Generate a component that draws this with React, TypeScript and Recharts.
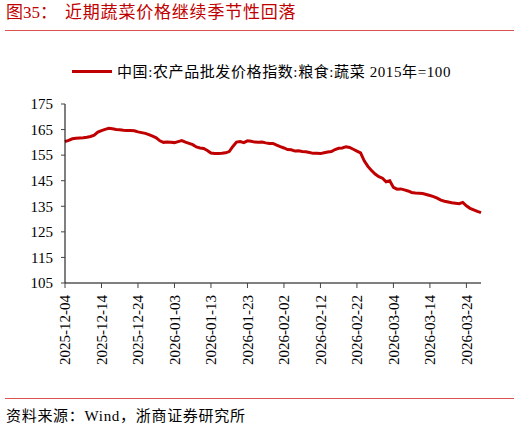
import React from "react";
import { LineChart, Line, XAxis, YAxis } from "recharts";

const TITLE_PREFIX = "图35：";
const TITLE_TEXT = "近期蔬菜价格继续季节性回落";
const SERIES_NAME = "中国:农产品批发价格指数:粮食:蔬菜 2015年=100";
const SOURCE_TEXT = "资料来源：Wind，浙商证券研究所";

const START_DATE = "2025-12-04";
const DAY_COUNT = 115;

const vegIndex: number[] = [
  160.3, 160.8, 161.4, 161.6, 161.7, 161.8, 162.0, 162.3, 162.8, 164.0,
  164.6, 165.1, 165.5, 165.3, 165.0, 164.9, 164.7, 164.6, 164.6, 164.5,
  164.1, 163.8, 163.5, 163.0, 162.4, 161.8, 160.6, 160.0, 160.1, 160.0,
  159.9, 160.3, 160.7, 160.1, 159.6, 159.1, 158.2, 157.8, 157.6, 156.8,
  155.8, 155.6, 155.6, 155.7, 155.9, 156.4, 158.4, 160.1, 160.3, 159.9,
  160.6, 160.4, 160.1, 160.0, 160.1, 159.8, 159.6, 159.6, 158.9, 158.3,
  157.8, 157.2, 157.1, 156.6, 156.7, 156.4, 156.3, 156.0, 155.7, 155.7,
  155.6, 155.9, 156.2, 156.4, 157.2, 157.7, 157.8, 158.3, 158.0, 157.3,
  156.6, 155.9, 152.8, 150.6, 149.0, 147.6, 146.6, 146.0, 144.6, 145.0,
  142.4, 141.7, 141.8, 141.4, 141.0, 140.4, 140.2, 140.1, 140.0, 139.6,
  139.2, 138.8, 138.2, 137.4, 137.0, 136.7, 136.4, 136.2, 136.0, 136.5,
  135.2, 134.2, 133.6, 133.0, 132.5,
];

const yTicks: number[] = [105, 115, 125, 135, 145, 155, 165, 175];

function buildDates(start: string, n: number): string[] {
  const out: string[] = [];
  const d0 = new Date(start + "T00:00:00Z");
  for (let i = 0; i < n; i++) {
    const d = new Date(d0.getTime() + i * 86400000);
    out.push(d.toISOString().slice(0, 10));
  }
  return out;
}

const dates = buildDates(START_DATE, DAY_COUNT);
const data = dates.map((date, i) => ({ date, v: vegIndex[i] }));

const SERIF = '"Liberation Serif", "Noto Sans CJK SC", serif';
const RED = "#c00000";

const XTick = (props: any) => {
  const { x, y, payload } = props;
  return (
    <text
      x={x}
      y={y + 5}
      transform={`rotate(-90 ${x} ${y + 5})`}
      textAnchor="end"
      dy="0.35em"
      fontSize={15}
      fontFamily={SERIF}
      fill="#000"
    >
      {payload.value}
    </text>
  );
};

export default function App() {
  return (
    <div
      style={{
        position: "absolute",
        left: 0,
        top: 0,
        width: 520,
        height: 430,
        background: "#fff",
        fontFamily: SERIF,
        overflow: "hidden",
      }}
    >
      <div
        style={{
          position: "absolute",
          left: 6,
          top: 3,
          fontSize: 17,
          lineHeight: "20px",
          color: RED,
          fontFamily: SERIF,
          whiteSpace: "nowrap",
        }}
      >
        {TITLE_PREFIX}
      </div>
      <div
        style={{
          position: "absolute",
          left: 65,
          top: 3,
          fontSize: 17,
          lineHeight: "20px",
          letterSpacing: 0.8,
          color: RED,
          fontFamily: SERIF,
          whiteSpace: "nowrap",
        }}
      >
        {TITLE_TEXT}
      </div>
      <div
        style={{
          position: "absolute",
          left: 5,
          top: 30,
          width: 509,
          height: 1,
          background: "#d9534f",
        }}
      />
      <div
        style={{
          position: "absolute",
          left: 72,
          top: 70,
          width: 40,
          height: 3,
          background: RED,
        }}
      />
      <div
        style={{
          position: "absolute",
          left: 117,
          top: 62,
          fontSize: 15,
          lineHeight: "20px",
          letterSpacing: 0.6,
          color: "#000",
          whiteSpace: "nowrap",
        }}
      >
        {SERIES_NAME}
      </div>

      <div style={{ position: "absolute", left: 0, top: 0 }}>
        <LineChart
          width={520}
          height={430}
          data={data}
          margin={{ top: 104, right: 39, bottom: 67, left: 0 }}
        >
          <XAxis
            dataKey="date"
            interval={9}
            height={80}
            tick={<XTick />}
            tickSize={5}
            axisLine={{ stroke: "#000", strokeWidth: 1 }}
            tickLine={{ stroke: "#444", strokeWidth: 1 }}
          />
          <YAxis
            domain={[105, 175]}
            ticks={yTicks}
            width={65}
            tickSize={4}
            tickMargin={8}
            interval={0}
            axisLine={{ stroke: "#000", strokeWidth: 1 }}
            tickLine={{ stroke: "#444", strokeWidth: 1 }}
            tick={{ fontSize: 15, fontFamily: SERIF, fill: "#000" }}
          />
          <Line
            type="linear"
            dataKey="v"
            stroke={RED}
            strokeWidth={3}
            dot={false}
            isAnimationActive={false}
          />
        </LineChart>
      </div>

      <div
        style={{
          position: "absolute",
          left: 5,
          top: 398,
          width: 509,
          height: 1,
          background: "#d9534f",
        }}
      />
      <div
        style={{
          position: "absolute",
          left: 6,
          top: 406,
          fontSize: 15,
          lineHeight: "20px",
          letterSpacing: 0.7,
          color: "#000",
          whiteSpace: "nowrap",
        }}
      >
        {SOURCE_TEXT}
      </div>
    </div>
  );
}
